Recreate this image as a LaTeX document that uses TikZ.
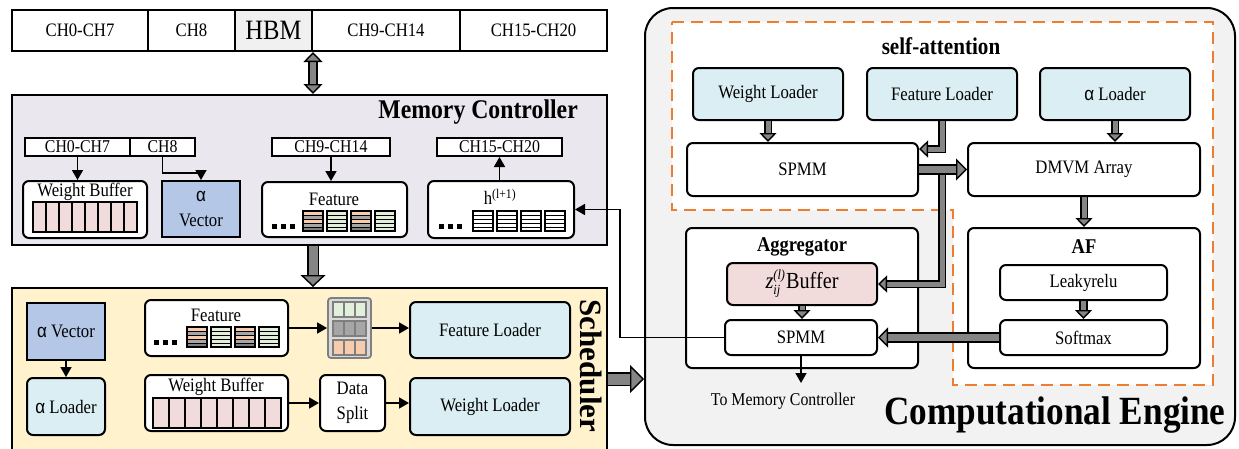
\documentclass[tikz,border=0pt]{standalone}
\usepackage{fontspec}
\setmainfont{Liberation Serif}[FakeStretch=0.88]
\newfontfamily\greekfam{Liberation Sans}[FakeStretch=0.9]
\newfontfamily\plainserif{Liberation Serif}
\usetikzlibrary{arrows.meta}

\definecolor{mcfill}{HTML}{EAE7EF}
\definecolor{schfill}{HTML}{FFF2CC}
\definecolor{cefill}{HTML}{F2F2F2}
\definecolor{ldblue}{HTML}{DAEEF3}
\definecolor{avblue}{HTML}{B4C7E7}
\definecolor{pinkfill}{HTML}{F2DCDB}
\definecolor{hbmgray}{HTML}{F0F0F0}
\definecolor{arrowgray}{HTML}{858585}
\definecolor{dashorange}{HTML}{ED7D31}
\definecolor{stO}{HTML}{F8CBAD}
\definecolor{stG}{HTML}{A6A6A6}
\definecolor{stD}{HTML}{808080}
\definecolor{stGreen}{HTML}{E2EFDA}
\definecolor{colbg}{HTML}{D9D9D9}
\definecolor{colline}{HTML}{7F7F7F}

% box placed by its corners: [style]{name}{x1}{y1}{x2}{y2}{text}
\newcommand\blk[7][]{\node[#1, minimum width={(#5)-(#3)}, minimum height={(#6)-(#4)}] (#2) at ({((#3)+(#5))/2},{((#4)+(#6))/2}) {#7};}

% thick grey block arrow: {shaft}{outline}{tip width}{tip length}{shorten}{path}
\newcommand\fatarrow[6]{%
  \draw[line width=#2, shorten >=#5] #6;
  \draw[line width=#1, draw=arrowgray, -{Triangle[width=#3,length=#4,fill=arrowgray,color=black,line width=1.4pt]}] #6;}
\newcommand\fatdouble[6]{%
  \draw[line width=#2, shorten >=#5, shorten <=#5] #6;
  \draw[line width=#1, draw=arrowgray, {Triangle[width=#3,length=#4,fill=arrowgray,color=black,line width=1.4pt]}-{Triangle[width=#3,length=#4,fill=arrowgray,color=black,line width=1.4pt]}] #6;}

% striped feature stack: x, y (top left), five row colours
\newcommand\featstack[7]{%
  \foreach \c [count=\i from 0] in {#3,#4,#5,#6,#7}
    {\filldraw[fill=\c, draw=black, line width=0.9pt] (#1,{#2+\i*4}) rectangle ++(20,4);}
  \draw[line width=1.6pt] (#1,#2) rectangle ++(20,20);}
\newcommand\dotrow[2]{\foreach \k in {0,1,2} {\fill ({#1+\k*9},#2) rectangle ++(4.5,4.5);}}

\begin{document}
\begin{tikzpicture}[x=1pt,y=-1pt,
  box/.style={draw, line width=2pt, inner sep=0pt, align=center, font=\fontsize{19}{23}\selectfont},
  rbox/.style={box, rounded corners=6pt},
  lbl/.style={inner sep=0pt, font=\fontsize{19}{23}\selectfont},
  title/.style={inner sep=0pt, font=\bfseries\fontsize{27}{30}\selectfont},
  thin/.style={line width=1.7pt, -{Triangle[width=11pt,length=10pt]}},
  dashregion/.style={draw=dashorange, line width=2.6pt, dash pattern=on 12pt off 7pt, fill=white}]
\useasboundingbox (0,0) rectangle (1239,448);

% ---------------- HBM channels ----------------
\blk[box]{c07}{12}{10}{148}{51}{CH0-CH7}
\blk[box]{c8}{148}{10}{235}{51}{CH8}
\blk[box, fill=hbmgray, font=\fontsize{28}{30}\selectfont]{hbm}{235}{10}{312}{51}{HBM}
\blk[box]{c914}{312}{10}{460}{51}{CH9-CH14}
\blk[box]{c1520}{460}{10}{607}{51}{CH15-CH20}

% ---------------- Memory controller ----------------
\blk[box, fill=mcfill]{mc}{12}{95}{607}{245}{}
\node[title, anchor=east] (mctitle) at (578,112) {Memory Controller};
\fatdouble{6pt}{9.5pt}{19pt}{10pt}{8pt}{(hbm.south east) -- (hbm.south east |- mc.north)}

\blk[box, fill=white, font=\fontsize{18}{20}\selectfont]{m07}{25}{138}{130}{156}{CH0-CH7}
\blk[box, fill=white, font=\fontsize{18}{20}\selectfont]{m8}{130}{138}{195}{156}{CH8}
\blk[box, fill=white, font=\fontsize{18}{20}\selectfont]{m914}{272}{138}{390}{156}{CH9-CH14}
\blk[box, fill=white, font=\fontsize{18}{20}\selectfont]{m1520}{437}{138}{562}{156}{CH15-CH20}

\blk[rbox, fill=white]{mwb}{23}{181}{147}{238}{}
\node[lbl] (mwbt) at (85,192) {Weight Buffer};
\foreach \i in {0,...,7}
  {\filldraw[fill=pinkfill, line width=1.2pt] ({33+\i*13},202) rectangle ++(13,30);}
\blk[box, fill=avblue, font=\fontsize{19}{25}\selectfont]{mav}{162}{181}{240}{237}{{\greekfam α}\\Vector}

\blk[rbox, fill=white]{mfe}{262}{182}{407}{237}{}
\node[lbl] (mfet) at (334,199) {Feature};
\dotrow{272}{224}
\featstack{303}{211}{stO}{stG}{stO}{stG}{stD}
\featstack{327}{211}{stGreen}{stGreen}{stGreen}{stGreen}{stGreen}
\featstack{351}{211}{stO}{stG}{stO}{stG}{stD}
\featstack{375}{211}{stGreen}{stGreen}{stGreen}{stGreen}{stGreen}

\blk[rbox, fill=white]{mh}{428}{181}{574}{238}{}
\node[lbl] (mht) at (500,197) {h\textsuperscript{(l+1)}};
\dotrow{439}{224}
\featstack{473}{211}{white}{white}{white}{white}{white}
\featstack{497}{211}{white}{white}{white}{white}{white}
\featstack{521}{211}{white}{white}{white}{white}{white}
\featstack{545}{211}{white}{white}{white}{white}{white}

\draw[thin] (m07.south) -- (m07.south |- mwb.north);
\draw[thin] (m8.south) -- ++(0,16) -| (mav.north);
\draw[thin] (m914.south) -- (m914.south |- mfe.north);
\draw[thin] (mh.north -| m1520.south) -- (m1520.south);

% ---------------- Scheduler ----------------
\blk[box, fill=schfill]{sch}{12}{288}{607}{470}{}
\node[inner sep=0pt, rotate=-90, font=\plainserif\bfseries\fontsize{31}{34}\selectfont] (scht) at (591,366) {Scheduler};
\fatarrow{9pt}{12.5pt}{25pt}{12pt}{10pt}{(mc.south -| hbm.south east) -- (hbm.south east |- sch.north)}

\blk[box, fill=avblue]{sav}{27}{303}{105}{360}{{\greekfam α} Vector}
\blk[rbox, fill=ldblue]{sal}{27}{378}{105}{435}{{\greekfam α} Loader}

\blk[rbox, fill=white]{sfe}{145}{300}{288}{356}{}
\node[lbl] (sfet) at (216,315) {Feature};
\dotrow{154}{340}
\featstack{187}{327}{stO}{stG}{stO}{stG}{stD}
\featstack{211}{327}{stGreen}{stGreen}{stGreen}{stGreen}{stGreen}
\featstack{235}{327}{stO}{stG}{stO}{stG}{stD}
\featstack{259}{327}{stGreen}{stGreen}{stGreen}{stGreen}{stGreen}

\blk[draw=colline, line width=1.8pt, rounded corners=3pt, fill=colbg, inner sep=0pt]{col}{328}{298}{371}{358}{}
\foreach \gy/\gc in {302/stGreen, 321/stG, 340/stO} {
  \foreach \j in {0,1,2}
    {\filldraw[fill=\gc, draw=colline, line width=1.2pt] ({333+\j*11},\gy) rectangle ++(11,15);}
}

\blk[rbox, fill=white]{swb}{145}{375}{288}{431}{}
\node[lbl] (swbt) at (216,387) {Weight Buffer};
\foreach \i in {0,...,7}
  {\filldraw[fill=pinkfill, line width=1.2pt] ({153+\i*16},398) rectangle ++(16,30);}
\blk[rbox, fill=white, font=\fontsize{19}{25}\selectfont]{sds}{320}{375}{385}{431}{Data\\Split}
\blk[rbox, fill=ldblue]{sfl}{410}{302}{570}{358}{Feature Loader}
\blk[rbox, fill=ldblue]{swl}{410}{378}{570}{435}{Weight Loader}

\draw[thin] (sav.south) -- (sal.north);
\draw[thin] (sfe.east) -- (sfe.east -| col.west);
\draw[thin] (col.east) -- (col.east -| sfl.west);
\draw[thin] (swb.east) -- (swb.east -| sds.west);
\draw[thin] (sds.east) -- (sds.east -| swl.west);

% ---------------- Computational engine ----------------
\blk[draw, line width=2pt, rounded corners=28pt, fill=cefill, inner sep=0pt]{ce}{645}{8}{1235}{445}{}
\fatarrow{11pt}{14.5pt}{28pt}{14pt}{12pt}{(sch.east) -- (sch.east -| ce.west)}

\draw[dashregion] (672,22) -- (1213,22) -- (1213,385) -- (953,385) -- (953,210) -- (672,210) -- cycle;
\node[title, font=\bfseries\fontsize{24}{28}\selectfont] (sat) at (941,46) {self-attention};

\blk[rbox, fill=ldblue]{wl}{693}{68}{843}{120}{Weight Loader}
\blk[rbox, fill=ldblue]{fl}{867}{68}{1017}{120}{Feature Loader}
\blk[rbox, fill=ldblue]{al}{1040}{68}{1190}{120}{{\greekfam α} Loader}
\blk[rbox, fill=white]{sp1}{687}{143}{918}{196}{SPMM}
\blk[rbox, fill=white]{dm}{968}{143}{1200}{196}{DMVM Array}

\blk[rbox, fill=white]{agg}{686}{228}{918}{368}{}
\node[title, font=\bfseries\fontsize{21}{24}\selectfont] (aggt) at (802,247) {Aggregator};
\blk[rbox, fill=pinkfill, font=\fontsize{23}{24}\selectfont]{zb}{727}{263}{877}{305}{{\itshape z}\rlap{\raisebox{-6pt}{\fontsize{14}{14}\selectfont\itshape ij}}\raisebox{9pt}{\fontsize{14}{14}\selectfont\itshape(l)}\kern1pt Buffer}
\blk[rbox, fill=white]{sp2}{725}{320}{877}{355}{SPMM}

\blk[rbox, fill=white]{af}{968}{228}{1200}{368}{}
\node[title, font=\bfseries\fontsize{21}{24}\selectfont] (aft) at (1084,247) {AF};
\blk[rbox, fill=white]{lr}{1000}{265}{1167}{300}{Leakyrelu}
\blk[rbox, fill=white]{sm}{1000}{320}{1167}{355}{Softmax}

\fatarrow{5pt}{8.5pt}{17pt}{9pt}{7pt}{(wl.south) -- (wl.south |- sp1.north)}
\fatarrow{5pt}{8.5pt}{17pt}{9pt}{7pt}{(fl.south) |- ([yshift=-7pt]sp1.north east)}
\fatarrow{5pt}{8.5pt}{17pt}{9pt}{7pt}{(al.south) -- (al.south |- dm.north)}
\fatarrow{5pt}{8.5pt}{17pt}{9pt}{7pt}{(fl.south |- sp1.east) |- (zb.east)}
\fatarrow{7pt}{10.5pt}{22pt}{11pt}{9pt}{(sp1.east) -- (dm.west)}
\fatarrow{5pt}{8.5pt}{17pt}{9pt}{7pt}{(dm.south) -- (af.north)}
\fatarrow{5pt}{8.5pt}{17pt}{9pt}{7pt}{(lr.south) -- (sm.north)}
\fatarrow{5pt}{8.5pt}{17pt}{9pt}{7pt}{(zb.south) -- (zb.south |- sp2.north)}
\fatarrow{7pt}{10.5pt}{20pt}{10pt}{8pt}{(sm.west) -- (sp2.east)}

\coordinate (tmc) at (802,383);
\draw[thin] (sp2.south) -- (sp2.south |- tmc);
\node[lbl, font=\fontsize{18}{20}\selectfont] (tmct) at (783,401) {To Memory Controller};

\coordinate (turn) at (620,0);
\draw[thin] (sp2.west) -- (sp2.west -| turn) |- (mh.east);

\node[inner sep=0pt, font=\bfseries\fontsize{40}{44}\selectfont] (cet) at (1055,415) {Computational Engine};
\end{tikzpicture}
\end{document}
